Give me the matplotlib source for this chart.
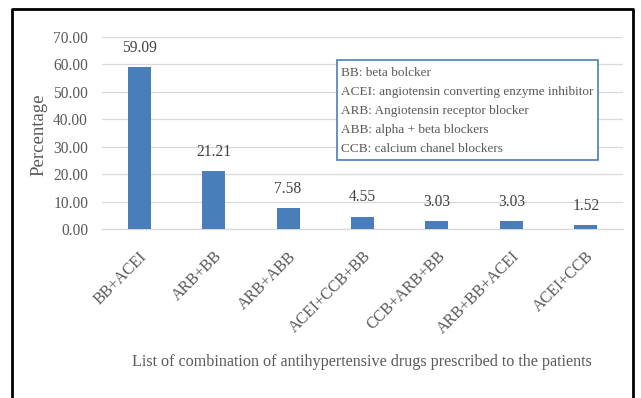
import matplotlib
matplotlib.use("Agg")
import matplotlib.pyplot as plt
from matplotlib.patches import Rectangle
from matplotlib.lines import Line2D

categories = ["BB+ACEI", "ARB+BB", "ARB+ABB", "ACEI+CCB+BB",
              "CCB+ARB+BB", "ARB+BB+ACEI", "ACEI+CCB"]
percentages = [59.09, 21.21, 7.58, 4.55, 3.03, 3.03, 1.52]
yticks = [0, 10, 20, 30, 40, 50, 60, 70]
legend_lines = [
    "BB: beta bolcker",
    "ACEI: angiotensin converting enzyme inhibitor",
    "ARB: Angiotensin receptor blocker",
    "ABB: alpha + beta blockers",
    "CCB: calcium chanel blockers",
]

plt.rcParams["font.family"] = ["Liberation Serif", "DejaVu Serif"]
TXT = "#595959"
BAR = "#4a7ebb"

W, H = 641, 398
fig = plt.figure(figsize=(W / 100, H / 100), dpi=100)

def fx(px):
    return px / W

def fy(py):
    return 1 - py / H

AX_L, AX_R, AX_T, AX_B = 102, 623, 37, 229
ax = fig.add_axes([fx(AX_L), fy(AX_B), fx(AX_R) - fx(AX_L), fy(AX_T) - fy(AX_B)])
x = list(range(len(categories)))
ax.bar(x, percentages, width=0.31, color=BAR, zorder=3)
ax.set_xlim(-0.5, len(categories) - 0.5)
ax.set_ylim(0, 70)
ax.set_yticks(yticks)
ax.set_yticklabels([f"{v:.2f}" for v in yticks], color=TXT, fontsize=11.2)
ax.set_xticks(x)
ax.set_xticklabels(categories, rotation=45, ha="right", va="top",
                   rotation_mode="anchor", color=TXT, fontsize=11.5)
ax.tick_params(axis="y", length=0, pad=10)
ax.tick_params(axis="x", length=0, pad=14)
ax.grid(axis="y", color="#d9d9d9", linewidth=0.9, zorder=0)
for s in ["top", "right", "left"]:
    ax.spines[s].set_visible(False)
ax.spines["bottom"].set_color("#d9d9d9")
ax.spines["bottom"].set_linewidth(0.9)

for xi, v in zip(x, percentages):
    ax.annotate(f"{v:.2f}", (xi, v), xytext=(0, 8), textcoords="offset points",
                ha="center", va="bottom", color="#404040", fontsize=11.2)

ax.set_ylabel("Percentage", color=TXT, fontsize=13.5, va="center")
ax.yaxis.set_label_coords((39 - AX_L) / (AX_R - AX_L), (AX_B - 135) / (AX_B - AX_T))
fig.text(fx(362), fy(362), "List of combination of antihypertensive drugs prescribed to the patients",
         ha="center", va="center", color=TXT, fontsize=11.6)

# abbreviation key box
fig.patches.append(Rectangle((fx(337), fy(160)), fx(598) - fx(337), fy(60) - fy(160),
                             transform=fig.transFigure, fill=True, facecolor="white",
                             edgecolor=BAR, linewidth=1.2, zorder=5))
for i, line in enumerate(legend_lines):
    fig.text(fx(341), fy(73 + i * 19), line, ha="left", va="center",
             color=TXT, fontsize=9.5, zorder=6)

# outer frame
frame_kw = dict(transform=fig.transFigure, color="black", linewidth=2)
fig.lines.append(Line2D([fx(12), fx(12), fx(633), fx(633)],
                        [0, fy(9), fy(9), 0], **frame_kw))

fig.savefig("out.png", dpi=100)
